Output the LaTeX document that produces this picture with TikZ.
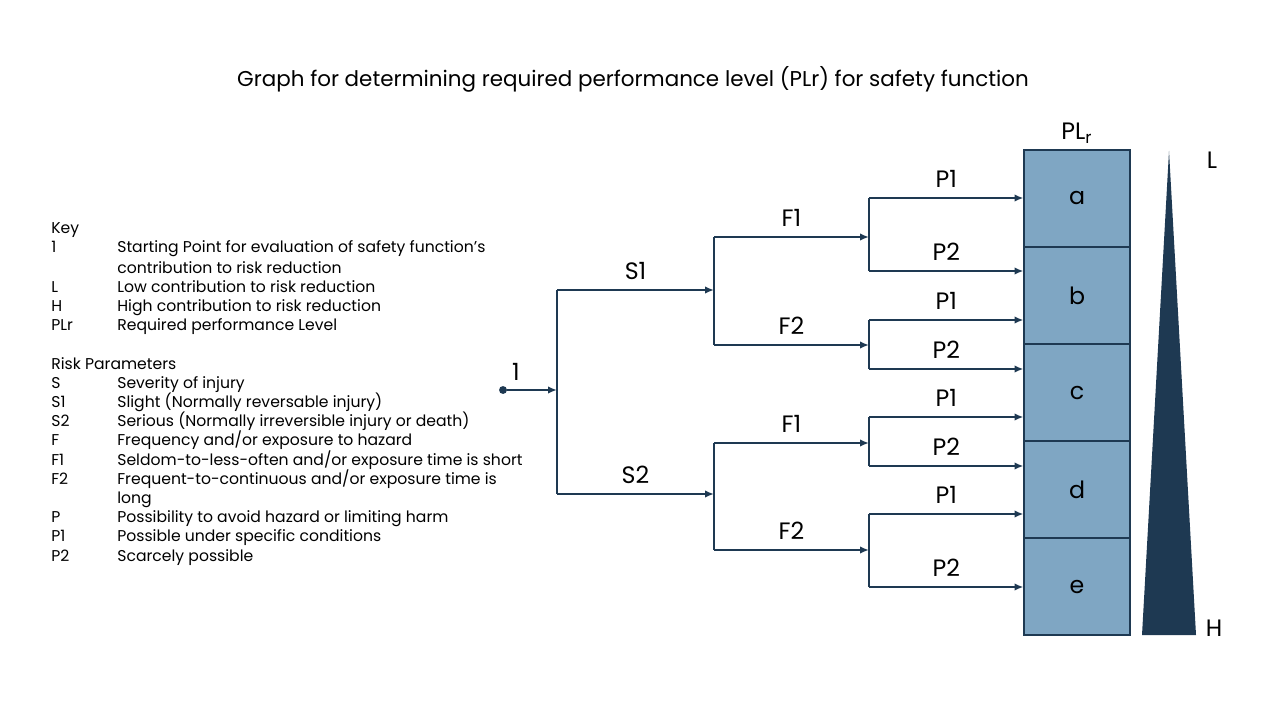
\documentclass[tikz,border=0pt]{standalone}
\usepackage{fontspec}
\setmainfont{Poppins}
\usepackage{tikz}
\usetikzlibrary{arrows.meta, positioning, calc}
\definecolor{cNavy}{RGB}{30,57,82}
\definecolor{cBox}{RGB}{127,166,195}
\tikzset{
	branch/.style   ={draw=cNavy, line width=1.2pt},
	flowarrow/.style={branch, -{Latex[length=1.8mm, width=1.5mm]}},
	brlabel/.style  ={font=\fontsize{13.5}{15}\selectfont, inner sep=0pt},
	plrbox/.style   ={rectangle, draw=cNavy, fill=cBox, line width=0.6pt, minimum width=2.12cm, minimum height=1.94cm, font=\fontsize{13.5}{15}\selectfont},
	keytxt/.style   ={anchor=base west, inner sep=0pt, font=\fontsize{8.9}{10}\selectfont},
	dot/.style      ={circle, fill=cNavy, minimum size=4.5pt, inner sep=0pt},
}
\begin{document}
\begin{tikzpicture}[x=0.02cm, y=-0.02cm]
	\useasboundingbox (0,0) rectangle (1277,716);
	% title
	\node[font=\fontsize{12.2}{14}\selectfont] (title) at (633,79) {Graph for determining required performance level (PLr) for safety function};
	% key
	\foreach \n/\y/\k/\d in {k0/234/Key/{}, k1/253/1/{Starting Point for evaluation of safety function’s}, k1b/273/{}/{contribution to risk reduction}, k2/292/L/{Low contribution to risk reduction}, k3/311/H/{High contribution to risk reduction}, k4/330/PLr/{Required performance Level}, k5/369/Risk Parameters/{}, k6/388/S/{Severity of injury}, k7/407/S1/{Slight (Normally reversable injury)}, k8/426/S2/{Serious (Normally irreversible injury or death)}, k9/445/F/{Frequency and/or exposure to hazard}, k10/465/F1/{Seldom-to-less-often and/or exposure time is short}, k11/484/F2/{Frequent-to-continuous and/or exposure time is}, k11b/503/{}/{long}, k12/522/P/{Possibility to avoid hazard or limiting harm}, k13/541/P1/{Possible under specific conditions}, k14/561/P2/{Scarcely possible}}{
		\node[keytxt] (\n-k) at (51,\y) {\k};
		\node[keytxt] (\n-d) at (117,\y) {\d};
	}
	% PLr column
	\node[font=\fontsize{13.5}{15}\selectfont] (plr) at (1077,133) {PL\textsubscript{r}};
	\node[plrbox] (a) at (1077,198.5) {a};
	\node[plrbox] (b) at (1077,295.5) {b};
	\node[plrbox] (c) at (1077,392.5) {c};
	\node[plrbox] (d) at (1077,489.5) {d};
	\node[plrbox] (e) at (1077,586.5) {e};
	% low/high wedge
	\fill[cNavy] (1169,151) -- (1196,635) -- (1142,635) -- cycle;
	\node[font=\fontsize{13.5}{15}\selectfont] (lo) at (1212,160) {L};
	\node[font=\fontsize{13.5}{15}\selectfont] (hi) at (1214,628) {H};
	% start
	\node[dot] (start) at (503,390) {};
	\node[brlabel] (one) at (516,372) {1};
	\coordinate (s) at (557,390);
	\coordinate (s1) at (557,290);
	\coordinate (s2) at (557,494);
	\draw[flowarrow] (start) -- (s);
	\draw[branch] (s1) -- (s2);
	% severity
	\coordinate (f-s1) at (714,290);
	\coordinate (f-s2) at (714,494);
	\draw[flowarrow] (s1) -- node[brlabel, above=5.5pt] (lS1) {S1} (f-s1);
	\draw[flowarrow] (s2) -- node[brlabel, above=5.5pt] (lS2) {S2} (f-s2);
	\coordinate (f1a) at (714,237);
	\coordinate (f2a) at (714,345);
	\coordinate (f1b) at (714,443);
	\coordinate (f2b) at (714,550);
	\draw[branch] (f1a) -- (f2a);
	\draw[branch] (f1b) -- (f2b);
	% frequency
	\coordinate (p-f1a) at (869,237);
	\coordinate (p-f2a) at (869,345);
	\coordinate (p-f1b) at (869,443);
	\coordinate (p-f2b) at (869,550);
	\draw[flowarrow] (f1a) -- node[brlabel, above=5.5pt] (lF1a) {F1} (p-f1a);
	\draw[flowarrow] (f2a) -- node[brlabel, above=5.5pt] (lF2a) {F2} (p-f2a);
	\draw[flowarrow] (f1b) -- node[brlabel, above=5.5pt] (lF1b) {F1} (p-f1b);
	\draw[flowarrow] (f2b) -- node[brlabel, above=5.5pt] (lF2b) {F2} (p-f2b);
	\coordinate (p1a) at (869,198);
	\coordinate (p2a) at (869,271);
	\coordinate (p1b) at (869,320);
	\coordinate (p2b) at (869,369);
	\coordinate (p1c) at (869,417);
	\coordinate (p2c) at (869,466);
	\coordinate (p1d) at (869,514);
	\coordinate (p2d) at (869,587);
	\draw[branch] (p1a) -- (p2a);
	\draw[branch] (p1b) -- (p2b);
	\draw[branch] (p1c) -- (p2c);
	\draw[branch] (p1d) -- (p2d);
	% avoidance
	\draw[flowarrow] (p1a) -- node[brlabel, above=5.5pt] (lP1a) {P1} (p1a -| a.west);
	\draw[flowarrow] (p2a) -- node[brlabel, above=5.5pt] (lP2a) {P2} (p2a -| b.west);
	\draw[flowarrow] (p1b) -- node[brlabel, above=5.5pt] (lP1b) {P1} (p1b -| b.west);
	\draw[flowarrow] (p2b) -- node[brlabel, above=5.5pt] (lP2b) {P2} (p2b -| c.west);
	\draw[flowarrow] (p1c) -- node[brlabel, above=5.5pt] (lP1c) {P1} (p1c -| c.west);
	\draw[flowarrow] (p2c) -- node[brlabel, above=5.5pt] (lP2c) {P2} (p2c -| d.west);
	\draw[flowarrow] (p1d) -- node[brlabel, above=5.5pt] (lP1d) {P1} (p1d -| d.west);
	\draw[flowarrow] (p2d) -- node[brlabel, above=5.5pt] (lP2d) {P2} (p2d -| e.west);
\end{tikzpicture}
\end{document}
